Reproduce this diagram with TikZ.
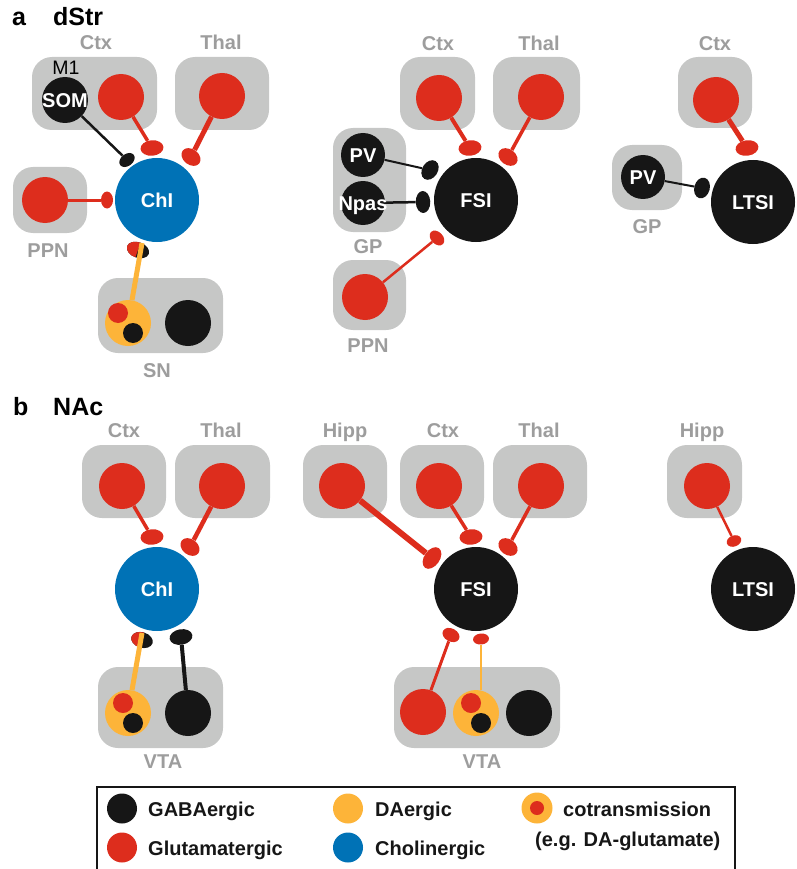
\documentclass[tikz,border=0pt]{standalone}
\usepackage{fontspec}
\setmainfont{Liberation Sans}
\usetikzlibrary{shapes.geometric,calc}

\definecolor{glut}{RGB}{221,45,29}
\definecolor{chol}{RGB}{0,114,182}
\definecolor{dopa}{RGB}{253,180,57}
\definecolor{gaba}{RGB}{22,22,22}
\definecolor{regiongray}{RGB}{198,199,198}
\definecolor{regionlabel}{RGB}{157,157,157}

\pgfdeclarelayer{bg}
\pgfdeclarelayer{wires}
\pgfdeclarelayer{front}
\pgfsetlayers{bg,wires,main,front}

\newcommand{\fgRegionFont}{\fontsize{20}{24}\selectfont\bfseries}
\newcommand{\fgCellFont}{\fontsize{20}{24}\selectfont\bfseries}
\newcommand{\fgTitleFont}{\fontsize{25}{30}\selectfont\bfseries}
\newcommand{\fgPlainFont}{\fontsize{19.5}{23}\selectfont}

\begin{document}
\begin{tikzpicture}[x=1pt,y=-1pt,
  region/.style={fill=regiongray, rounded corners=20pt},
  regionname/.style={text=regionlabel, font=\fgRegionFont, anchor=base, inner sep=0pt},
  paneltitle/.style={text=black, font=\fgTitleFont, anchor=base west, inner sep=0pt},
  cell/.style={circle, inner sep=0pt, minimum size=46pt},
  pcell/.style={circle, inner sep=0pt, minimum size=44pt, fill=gaba},
  soma/.style={circle, inner sep=0pt, minimum size=84pt},
  dot/.style={circle, inner sep=0pt, minimum size=20pt},
  celltext/.style={text=white, font=\fgCellFont, inner sep=0pt, text height=14.4pt, text depth=0pt},
  syn/.style={ellipse, inner sep=0pt, minimum width=23pt, minimum height=15.5pt},
  synsmall/.style={ellipse, inner sep=0pt, minimum width=17pt, minimum height=12pt},
  glutwire/.style={draw=glut, line width=#1},
  gabawire/.style={draw=gaba, line width=#1},
  dawire/.style={draw=dopa, line width=#1},
  legendtext/.style={text=gaba, font=\fgRegionFont, anchor=base west, inner sep=0pt},
  legendmark/.style={circle, inner sep=0pt, minimum size=30pt}
]
\useasboundingbox (0,0) rectangle (796,869);

% ---------------- panel a : dorsal striatum ----------------
\node[paneltitle] (titleA) at (12,26) {a};
\node[paneltitle] (titleDStr) at (53,26) {dStr};

\begin{pgfonlayer}{bg}
  \path[region] (32,57) rectangle (157,130);
  \path[region] (175,57) rectangle (269,130);
  \path[region] (13,167) rectangle (87,233);
  \path[region] (98,278) rectangle (223,353);
  \path[region] (400,57) rectangle (475,130);
  \path[region] (493,57) rectangle (580,130);
  \path[region] (333,128) rectangle (406,232);
  \path[region] (333,260) rectangle (406,330);
  \path[region] (678,57) rectangle (752,128);
  \path[region] (612,145) rectangle (682,210);
\end{pgfonlayer}

\node[regionname] (lCtxA) at (96,50) {Ctx};
\node[regionname] (lThalA) at (221,50) {Thal};
\node[regionname] (lPpnA) at (48,257) {PPN};
\node[regionname] (lSnA) at (157,377) {SN};
\node[regionname] (lCtxB) at (438,51) {Ctx};
\node[regionname] (lThalB) at (539,51) {Thal};
\node[regionname] (lGpB) at (368,253) {GP};
\node[regionname] (lPpnB) at (368,352) {PPN};
\node[regionname] (lCtxC) at (715,51) {Ctx};
\node[regionname] (lGpC) at (647,233) {GP};

% cholinergic interneuron circuit
\node[text=black, font=\fgPlainFont, anchor=base, inner sep=0pt] (m1) at (66,75) {M1};
\node[cell, fill=gaba, label={[celltext]center:SOM}] (som) at (65,100) {};
\node[cell, fill=glut] (ctxA) at (121,97) {};
\node[cell, fill=glut] (thalA) at (222,96) {};
\node[cell, fill=glut] (ppnA) at (45,200) {};
\node[soma, fill=chol, label={[celltext]center:ChI}] (chiA) at (157,200) {};
\node[cell, fill=dopa] (yA) at (128,323) {};
\node[dot, fill=glut] (yAr) at (118,313) {};
\node[dot, fill=gaba] (yAb) at (133,333) {};
\node[cell, fill=gaba] (snA) at (188,323) {};

\node[syn, fill=glut, rotate=5] (sA1) at (152,148) {};
\node[syn, fill=glut, rotate=-38, minimum width=21pt] (sA2) at (191,157) {};
\node[synsmall, fill=gaba, rotate=37] (sA3) at (127,160) {};
\node[synsmall, fill=glut, rotate=90] (sA4) at (107,200) {};
\node[syn, fill=gaba, rotate=-20] (sA5) at (138,250) {};
\fill[glut, shift={(sA5.center)}, rotate=-20]
  (0pt,7.75pt) arc[start angle=90, end angle=270, x radius=11.5pt, y radius=7.75pt] -- cycle;
\coordinate (sA5tip) at ($(sA5.center)+(4,-7)$);

\begin{pgfonlayer}{wires}
  \draw[glutwire=3.5] (ctxA) -- (sA1);
  \draw[glutwire=5] (thalA) -- (sA2);
  \draw[gabawire=2.5] (som) -- (sA3);
  \draw[glutwire=3] (ppnA) -- (sA4);
\end{pgfonlayer}
\begin{pgfonlayer}{front}
  \draw[dawire=5] (yA) -- (sA5tip);
\end{pgfonlayer}

% fast-spiking interneuron circuit
\node[cell, fill=glut] (ctxB) at (439,98) {};
\node[cell, fill=glut] (thalB) at (541,97) {};
\node[pcell, label={[celltext]center:PV}] (pvB) at (363,155) {};
\node[pcell, label={[celltext]center:Npas}] (npasB) at (363,203) {};
\node[cell, fill=glut] (ppnB) at (365,297) {};
\node[soma, fill=gaba, label={[celltext]center:FSI}] (fsiA) at (476,200) {};

\node[syn, fill=glut, rotate=7] (sB1) at (470,148) {};
\node[syn, fill=glut, rotate=-37, minimum width=21pt] (sB2) at (508,157) {};
\node[syn, fill=gaba, rotate=57, minimum width=21pt] (sB3) at (430,170) {};
\node[syn, fill=gaba, rotate=92, minimum width=22pt, minimum height=14.5pt] (sB4) at (423,202) {};
\node[synsmall, fill=glut, rotate=-46] (sB5) at (437,238) {};

\begin{pgfonlayer}{wires}
  \draw[glutwire=4] (ctxB) -- (sB1);
  \draw[glutwire=3.5] (thalB) -- (sB2);
  \draw[gabawire=2] (pvB) -- (sB3);
  \draw[gabawire=2.5] (npasB) -- (sB4);
  \draw[glutwire=2.5] (ppnB) -- (sB5);
\end{pgfonlayer}

% low-threshold spiking interneuron circuit
\node[cell, fill=glut] (ctxC) at (716,100) {};
\node[pcell, label={[celltext]center:PV}] (pvC) at (643,177) {};
\node[soma, fill=gaba, label={[celltext]center:LTSI}] (ltsiA) at (753,202) {};

\node[syn, fill=glut, rotate=8] (sC1) at (747,148) {};
\node[syn, fill=gaba, rotate=75, minimum width=21pt] (sC2) at (702,188) {};

\begin{pgfonlayer}{wires}
  \draw[glutwire=5] (ctxC) -- (sC1);
  \draw[gabawire=2] (pvC) -- (sC2);
\end{pgfonlayer}

% ---------------- panel b : nucleus accumbens ----------------
\node[paneltitle] (titleB) at (13,415) {b};
\node[paneltitle] (titleNAc) at (53,415) {NAc};

\begin{pgfonlayer}{bg}
  \path[region] (82,445) rectangle (166,518);
  \path[region] (175,445) rectangle (270,518);
  \path[region] (98,667) rectangle (223,748);
  \path[region] (303,445) rectangle (387,518);
  \path[region] (400,445) rectangle (484,518);
  \path[region] (493,445) rectangle (587,518);
  \path[region] (394,667) rectangle (560,748);
  \path[region] (667,445) rectangle (742,518);
\end{pgfonlayer}

\node[regionname] (lCtxD) at (124,437) {Ctx};
\node[regionname] (lThalD) at (221,437) {Thal};
\node[regionname] (lVtaD) at (163,768) {VTA};
\node[regionname] (lHippE) at (345,437) {Hipp};
\node[regionname] (lCtxE) at (443,437) {Ctx};
\node[regionname] (lThalE) at (539,437) {Thal};
\node[regionname] (lVtaE) at (482,768) {VTA};
\node[regionname] (lHippF) at (702,437) {Hipp};

% cholinergic interneuron circuit
\node[cell, fill=glut] (ctxD) at (122,486) {};
\node[cell, fill=glut] (thalD) at (222,486) {};
\node[soma, fill=chol, label={[celltext]center:ChI}] (chiB) at (157,589) {};
\node[cell, fill=dopa] (yD) at (128,713) {};
\node[dot, fill=glut] (yDr) at (123,703) {};
\node[dot, fill=gaba] (yDb) at (133,723) {};
\node[cell, fill=gaba] (vtaD) at (188,713) {};

\node[syn, fill=glut, rotate=5] (sD1) at (152,537) {};
\node[syn, fill=glut, rotate=-38, minimum width=21pt] (sD2) at (190,547) {};
\node[syn, fill=gaba, rotate=-17, minimum width=22pt] (sD3) at (142,640) {};
\fill[glut, shift={(sD3.center)}, rotate=-17]
  (0pt,7.75pt) arc[start angle=90, end angle=270, x radius=11pt, y radius=7.75pt] -- cycle;
\coordinate (sD3tip) at ($(sD3.center)+(0,-7)$);
\node[syn, fill=gaba, rotate=10] (sD4) at (181,637) {};

\begin{pgfonlayer}{wires}
  \draw[glutwire=3.5] (ctxD) -- (sD1);
  \draw[glutwire=4.5] (thalD) -- (sD2);
  \draw[gabawire=4] (vtaD) -- (sD4);
\end{pgfonlayer}
\begin{pgfonlayer}{front}
  \draw[dawire=5] (yD) -- (sD3tip);
\end{pgfonlayer}

% fast-spiking interneuron circuit
\node[cell, fill=glut] (hippE) at (342,486) {};
\node[cell, fill=glut] (ctxE) at (439,486) {};
\node[cell, fill=glut] (thalE) at (541,486) {};
\node[soma, fill=gaba, label={[celltext]center:FSI}] (fsiB) at (476,589) {};
\node[cell, fill=glut] (vtaRedE) at (423,712) {};
\node[cell, fill=dopa] (yE) at (476,713) {};
\node[dot, fill=glut] (yEr) at (471,703) {};
\node[dot, fill=gaba] (yEb) at (481,723) {};
\node[cell, fill=gaba] (vtaBlkE) at (529,713) {};

\node[syn, fill=glut, rotate=55, minimum width=24pt] (sE1) at (432,558) {};
\node[syn, fill=glut, rotate=5] (sE2) at (471,537) {};
\node[syn, fill=glut, rotate=-37, minimum width=21pt] (sE3) at (508,547) {};
\node[synsmall, fill=glut, rotate=-28, minimum width=18pt, minimum height=13pt] (sE4) at (451,635) {};
\node[synsmall, fill=glut, rotate=6, minimum width=16pt, minimum height=11pt] (sE5) at (481,639) {};

\begin{pgfonlayer}{wires}
  \draw[glutwire=6] (hippE) -- (sE1);
  \draw[glutwire=3.5] (ctxE) -- (sE2);
  \draw[glutwire=3.5] (thalE) -- (sE3);
  \draw[glutwire=3] (vtaRedE) -- (sE4);
  \draw[dawire=2] (yE.north -| sE5) -- (sE5);
\end{pgfonlayer}

% low-threshold spiking interneuron circuit
\node[cell, fill=glut] (hippF) at (707,486) {};
\node[soma, fill=gaba, label={[celltext]center:LTSI}] (ltsiB) at (753,589) {};
\node[synsmall, fill=glut, rotate=21, minimum width=15pt, minimum height=11pt] (sF1) at (734,541) {};

\begin{pgfonlayer}{wires}
  \draw[glutwire=2.5] (hippF) -- (sF1);
\end{pgfonlayer}

% ---------------- legend ----------------
\draw[gaba, line width=1.3pt] (97,787) rectangle (735,875);
\node[legendmark, fill=gaba] (lgGaba) at (122,808.5) {};
\node[legendtext] (lgGabaT) at (148,816) {GABAergic};
\node[legendmark, fill=glut] (lgGlut) at (122,847.5) {};
\node[legendtext] (lgGlutT) at (148,855) {Glutamatergic};
\node[legendmark, fill=dopa] (lgDa) at (348,808.5) {};
\node[legendtext] (lgDaT) at (375,816) {DAergic};
\node[legendmark, fill=chol] (lgChol) at (348,847.5) {};
\node[legendtext] (lgCholT) at (375,855) {Cholinergic};
\node[legendmark, fill=dopa, minimum size=31pt] (lgCo) at (537,808) {};
\node[circle, inner sep=0pt, minimum size=14pt, fill=glut] (lgCoDot) at (lgCo) {};
\node[legendtext] (lgCoT) at (563,816) {cotransmission};
\node[legendtext] (lgCoT2) at (535,846) {(e.g. DA-glutamate)};
\end{tikzpicture}
\end{document}
